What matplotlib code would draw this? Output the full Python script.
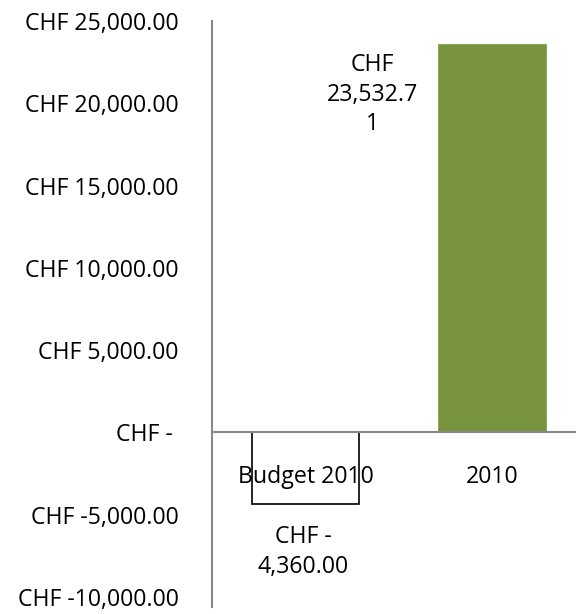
import matplotlib.pyplot as plt

# data
categories = ['Budget 2010', '2010']
values = [-4360.00, 23532.71]
value_labels = ['CHF -\n4,360.00', 'CHF\n23,532.7\n1']
ticks = [-10000, -5000, 0, 5000, 10000, 15000, 20000, 25000]
tick_labels = ['CHF -10,000.00', 'CHF -5,000.00', 'CHF - ', 'CHF 5,000.00',
               'CHF 10,000.00', 'CHF 15,000.00', 'CHF 20,000.00', 'CHF 25,000.00']

plt.rcParams['font.family'] = ['Open Sans', 'DejaVu Sans']
fs = 16.7

fig = plt.figure(figsize=(5.76, 6.14), dpi=100)
ax = fig.add_axes([212 / 576, 17 / 614, 364 / 576, 576 / 614])

x = range(len(categories))
face = ['white', '#77933c']
edge = ['black', '#77933c']
ax.bar(x, values, width=0.57, color=face, edgecolor=edge, linewidth=1.2, zorder=2)

ax.set_xlim(-0.5, 1.447)
ax.set_ylim(-10000, 25000)
ax.set_yticks(ticks)
ax.set_yticklabels(tick_labels, fontsize=fs)
ax.tick_params(axis='y', length=0, pad=24)
ax.set_xticks([])

for s in ['top', 'right', 'bottom']:
    ax.spines[s].set_visible(False)
ax.spines['left'].set_color('#878787')
ax.spines['left'].set_linewidth(1.5)
ax.spines['left'].set_bounds(-10000 - 600, 25000)
ax.axhline(0, color='#878787', linewidth=1.5, zorder=3)

# category labels sit just under the zero line
for i, c in enumerate(categories):
    ax.annotate(c, xy=(i, 0), xytext=(0, -33), textcoords='offset pixels',
                ha='center', va='top', fontsize=fs, zorder=4)

# data labels
ax.annotate(value_labels[0], xy=(0, values[0]), xytext=(-2, -21), textcoords='offset pixels',
            ha='center', va='top', fontsize=fs, linespacing=1.3)
ax.annotate(value_labels[1], xy=(1, values[1]), xytext=(-120, -8), textcoords='offset pixels',
            ha='center', va='top', fontsize=fs, linespacing=1.3)

fig.savefig('out.png', dpi=100)
